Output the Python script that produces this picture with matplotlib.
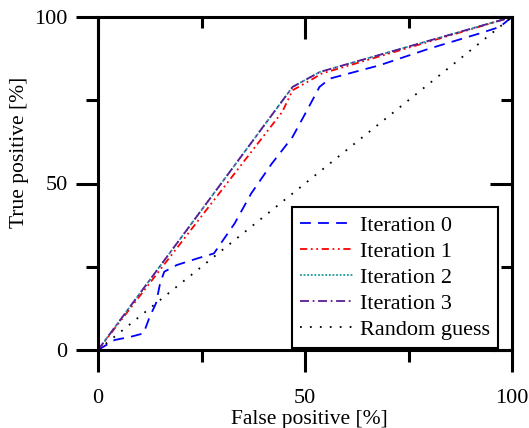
import matplotlib.pyplot as plt
import numpy as np

# ROC curves (percent)
fp_it0 = [0, 4, 8, 11, 12.5, 14, 15, 16, 19, 24, 28, 33, 37, 42, 47, 50.5, 53.5, 56, 68, 80, 92, 97, 100]
tp_it0 = [0, 3, 4, 5, 10, 14, 20, 23.5, 25.5, 27.5, 29, 38, 47, 56, 64, 72, 79, 81.5, 85.5, 90.5, 95, 97, 100]
fp_it1 = [0, 44.5, 47, 52, 54, 100]
tp_it1 = [0, 71.5, 78, 81.5, 83, 100]
fp_it2 = [0, 47, 53.6, 100]
tp_it2 = [0, 79, 83.5, 100]
fp_it3 = [0, 47, 53.6, 100]
tp_it3 = [0, 79, 83.5, 100]
fp_rand = [0, 100]
tp_rand = [0, 100]

major_ticks = [0, 50, 100]
minor_ticks = [25, 75]

plt.rcParams['font.family'] = ['Liberation Serif', 'DejaVu Serif']
plt.rcParams['font.size'] = 16

fig = plt.figure(figsize=(5.29, 4.28), dpi=100)
ax = fig.add_axes([98 / 529, 1 - 350 / 428, 414 / 529, 333 / 428])

lw = 1.3
ax.plot(fp_it0, tp_it0, color='#0000ff', lw=lw, ls=(0, (6, 4)), label='Iteration 0')
ax.plot(fp_it1, tp_it1, color='#ff0000', lw=lw, ls=(0, (4, 2, 1, 2, 1, 2)), label='Iteration 1')
ax.plot(fp_it2, tp_it2, color='#1a9a9a', lw=lw, ls=(0, (1, 1)), label='Iteration 2')
ax.plot(fp_it3, tp_it3, color='#5a1e96', lw=lw, ls=(0, (5, 2, 1, 2)), label='Iteration 3')
ax.plot(fp_rand, tp_rand, color='black', lw=lw, ls=(0, (1, 4.5)), label='Random guess')

ax.set_xlim(0, 100)
ax.set_ylim(0, 100)
ax.set_xticks(major_ticks)
ax.set_yticks(major_ticks)
ax.set_xticks(minor_ticks, minor=True)
ax.set_yticks(minor_ticks, minor=True)
ax.tick_params(which='major', direction='out', length=16, width=2.2, labelsize=16)
ax.tick_params(axis='x', which='major', pad=12)
ax.tick_params(axis='y', which='major', pad=6)
ax.tick_params(which='minor', direction='out', length=8.5, width=2.2)
for s in ax.spines.values():
    s.set_linewidth(2.2)

# inward ticks on top and right (length in axes fraction)
tx = ax.get_xaxis_transform()
ty = ax.get_yaxis_transform()
for ticks, L in ((major_ticks, 22), (minor_ticks, 11)):
    for t in ticks:
        ax.plot([t, t], [1, 1 - L / 333], transform=tx, color='black', lw=2.2,
                clip_on=False, solid_capstyle='butt')
        ax.plot([1, 1 - L / 414], [t, t], transform=ty, color='black', lw=2.2,
                clip_on=False, solid_capstyle='butt')

leg = ax.legend(loc='lower right', bbox_to_anchor=(0.966, 0.006), borderaxespad=0,
                fontsize=16, fancybox=False, framealpha=1, edgecolor='black',
                handlelength=2.4, handletextpad=0.3, labelspacing=0.25, borderpad=0.35)
leg.get_frame().set_linewidth(1.5)

ax.set_xlabel('False positive [%]', fontsize=15.5)
ax.xaxis.set_label_coords(0.51, -0.18)
fig.text(20 / 529, 1 - 152 / 428, 'True positive [%]', ha='center', va='center', rotation=90, fontsize=15.5)

fig.savefig('out.png', dpi=100)
